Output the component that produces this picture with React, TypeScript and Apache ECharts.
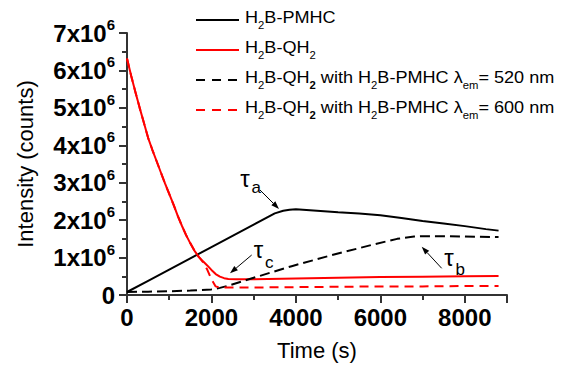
import React, { useEffect, useRef } from 'react';
import * as echarts from 'echarts';

const FONT = '"Liberation Sans", Arial, Helvetica, sans-serif';

// Values in units of 10^6 counts
const timePMHC = [0, 500, 1000, 1500, 2000, 2500, 3000, 3500, 3700, 3850, 4000, 4500, 5000, 5500, 6000, 6500, 7000, 7500, 8000, 8500, 8800];
const valPMHC = [0.08, 0.38, 0.68, 0.98, 1.28, 1.58, 1.88, 2.18, 2.25, 2.28, 2.29, 2.25, 2.21, 2.18, 2.13, 2.06, 1.98, 1.91, 1.84, 1.76, 1.72];

const timeQH2 = [0, 100, 200, 300, 400, 500, 600, 700, 800, 900, 1000, 1100, 1200, 1300, 1400, 1500, 1600, 1700, 1800, 1900, 2000, 2100, 2200, 2300, 2400, 2600, 3000, 4000, 5000, 6000, 7000, 8000, 8800];
const valQH2 = [6.32, 5.85, 5.42, 5.0, 4.6, 4.2, 3.88, 3.58, 3.28, 2.98, 2.7, 2.42, 2.12, 1.85, 1.6, 1.38, 1.18, 1.02, 0.9, 0.79, 0.67, 0.56, 0.49, 0.45, 0.43, 0.42, 0.42, 0.44, 0.46, 0.48, 0.49, 0.5, 0.51];

const timeMix520 = [0, 500, 1000, 1500, 2000, 2200, 2400, 3000, 3900, 4800, 5800, 6400, 6800, 7000, 7600, 8000, 8800];
const valMix520 = [0.08, 0.09, 0.1, 0.12, 0.15, 0.19, 0.25, 0.46, 0.77, 1.05, 1.34, 1.5, 1.56, 1.57, 1.57, 1.56, 1.55];

const timeMix600 = [0, 100, 200, 300, 400, 500, 600, 700, 800, 900, 1000, 1100, 1200, 1300, 1400, 1500, 1600, 1700, 1800, 1900, 2000, 2100, 2200, 2400, 3000, 4000, 5000, 6000, 7000, 8000, 8800];
const valMix600 = [6.32, 5.85, 5.42, 5.0, 4.6, 4.2, 3.88, 3.58, 3.28, 2.98, 2.7, 2.42, 2.12, 1.85, 1.6, 1.38, 1.18, 1.02, 0.88, 0.68, 0.42, 0.23, 0.2, 0.2, 0.2, 0.21, 0.22, 0.23, 0.23, 0.24, 0.24];

const xTicks = [0, 2000, 4000, 6000, 8000];
const yTickMax = 7;

const legendRows = [
  { color: '#000', dash: 'solid', text: '{n|H}{s|2}{n|B-PMHC}' },
  { color: '#ff0000', dash: 'solid', text: '{n|H}{s|2}{n|B-QH}{s|2}' },
  { color: '#000', dash: [9, 7], text: '{n|H}{s|2}{n|B-QH}{sb|2}{n| with H}{s|2}{n|B-PMHC λ}{s|em}{n|= 520 nm}' },
  { color: '#ff0000', dash: [9, 7], text: '{n|H}{s|2}{n|B-QH}{sb|2}{n| with H}{s|2}{n|B-PMHC λ}{s|em}{n|= 600 nm}' },
];

const pairs = (t: number[], v: number[]) => t.map((x, i) => [x, v[i]]);

function arrow(x1: number, y1: number, x2: number, y2: number): any[] {
  const dx = x2 - x1, dy = y2 - y1;
  const len = Math.sqrt(dx * dx + dy * dy);
  const ux = dx / len, uy = dy / len;
  const hl = 8, hw = 2.8;
  const bx = x2 - ux * hl, by = y2 - uy * hl;
  return [
    { type: 'line', shape: { x1, y1, x2: bx, y2: by }, style: { stroke: '#000', lineWidth: 1 }, z: 100 },
    {
      type: 'polygon',
      shape: { points: [[x2, y2], [bx - uy * hw, by + ux * hw], [bx + uy * hw, by - ux * hw]] },
      style: { fill: '#000' }, z: 100,
    },
  ];
}

export default function App() {
  const ref = useRef<HTMLDivElement>(null);
  useEffect(() => {
    if (!ref.current) return;
    const chart = echarts.init(ref.current, null, { renderer: 'svg' });

    const richLegend = {
      n: { fontSize: 16, fontFamily: FONT, fill: '#000', lineHeight: 18, verticalAlign: 'bottom', padding: [0, 0, 4, 0] },
      s: { fontSize: 10, fontFamily: FONT, fill: '#000', lineHeight: 11, verticalAlign: 'bottom' },
      sb: { fontSize: 10, fontFamily: FONT, fill: '#000', fontWeight: 'bold', lineHeight: 11, verticalAlign: 'bottom' },
    };

    const graphics: any[] = [];
    legendRows.forEach((r, i) => {
      const y = 20 + i * 30;
      graphics.push({
        type: 'line', shape: { x1: 196, y1: y, x2: 239, y2: y },
        style: { stroke: r.color, lineWidth: 2, lineDash: r.dash === 'solid' ? null : r.dash }, z: 100,
      });
      graphics.push({
        type: 'text', x: 245, y: y + 1, scaleX: 1.13, z: 100,
        style: { text: r.text, rich: richLegend, align: 'left', verticalAlign: 'middle', fill: '#000' },
      });
    });

    const tau = (x: number, y: number, sub: string, sx: number, sy: number) => {
      graphics.push({ type: 'text', x, y, z: 100, style: { text: 'τ', font: `24px ${FONT}`, fill: '#000', align: 'center', verticalAlign: 'middle' } });
      graphics.push({ type: 'text', x: sx, y: sy, z: 100, style: { text: sub, font: `17px ${FONT}`, fill: '#000', align: 'left', verticalAlign: 'middle' } });
    };
    tau(245, 178, 'a', 251.5, 187);
    tau(258.5, 249.5, 'c', 265, 262);
    tau(449, 257.5, 'b', 455.5, 269);
    graphics.push(...arrow(260, 190, 279, 209));
    graphics.push(...arrow(251.7, 255, 230, 273.3));
    graphics.push(...arrow(441.7, 268.3, 421.7, 246.7));

    const axisColor = '#333';
    chart.setOption({
      animation: false,
      backgroundColor: '#fff',
      grid: { left: 127, right: 56, top: 33, bottom: 68, containLabel: false },
      xAxis: {
        type: 'value', min: 0, max: 9000, interval: 2000,
        name: 'Time (s)', nameLocation: 'middle', nameGap: 44,
        nameTextStyle: { fontSize: 22, fontFamily: FONT, color: '#000' },
        axisLine: { show: true, onZero: false, lineStyle: { color: axisColor, width: 2 } },
        axisTick: { show: true, inside: false, length: 8, lineStyle: { color: axisColor, width: 2 } },
        minorTick: { show: true, splitNumber: 2, length: 5, lineStyle: { color: axisColor, width: 2 } },
        splitLine: { show: false }, minorSplitLine: { show: false },
        axisLabel: {
          fontSize: 24, fontWeight: 'bold', fontFamily: FONT, color: '#000', margin: 10,
          showMaxLabel: false,
          formatter: (v: number) => (xTicks.includes(v) ? String(v) : ''),
        },
      },
      yAxis: {
        type: 'value', min: 0, max: yTickMax, interval: 1,
        name: 'Intensity (counts)', nameLocation: 'middle', nameGap: 91,
        nameTextStyle: { fontSize: 22, fontFamily: FONT, color: '#000' },
        axisLine: { show: true, onZero: false, lineStyle: { color: axisColor, width: 2 } },
        axisTick: { show: true, inside: false, length: 8, lineStyle: { color: axisColor, width: 2 } },
        minorTick: { show: true, splitNumber: 2, length: 5, lineStyle: { color: axisColor, width: 2 } },
        splitLine: { show: false }, minorSplitLine: { show: false },
        axisLabel: {
          margin: 12,
          formatter: (v: number) => (v === 0 ? '{n|0}' : `{n|${v}x10}{p|6}`),
          rich: {
            n: { fontSize: 24, fontWeight: 'bold', fontFamily: FONT, color: '#000', lineHeight: 24, verticalAlign: 'bottom' },
            p: { fontSize: 15, fontWeight: 'bold', fontFamily: FONT, color: '#000', lineHeight: 15, verticalAlign: 'bottom', padding: [0, 0, 13, 0] },
          },
        },
      },
      series: [
        { name: 'H2B-PMHC', type: 'line', data: pairs(timePMHC, valPMHC), showSymbol: false, symbol: 'none', lineStyle: { color: '#000', width: 2 }, itemStyle: { color: '#000' } },
        { name: 'H2B-QH2', type: 'line', data: pairs(timeQH2, valQH2), showSymbol: false, symbol: 'none', lineStyle: { color: '#ff0000', width: 2 }, itemStyle: { color: '#ff0000' } },
        { name: 'H2B-QH2 with H2B-PMHC 520 nm', type: 'line', data: pairs(timeMix520, valMix520), showSymbol: false, symbol: 'none', lineStyle: { color: '#000', width: 2, type: [10, 5] }, itemStyle: { color: '#000' } },
        { name: 'H2B-QH2 with H2B-PMHC 600 nm', type: 'line', data: pairs(timeMix600, valMix600), showSymbol: false, symbol: 'none', lineStyle: { color: '#ff0000', width: 2, type: [9, 6] }, itemStyle: { color: '#ff0000' } },
      ],
      graphic: graphics,
    });
    return () => chart.dispose();
  }, []);
  return <div ref={ref} style={{ position: 'fixed', left: 0, top: 0, width: 563, height: 366, background: '#fff' }} />;
}
